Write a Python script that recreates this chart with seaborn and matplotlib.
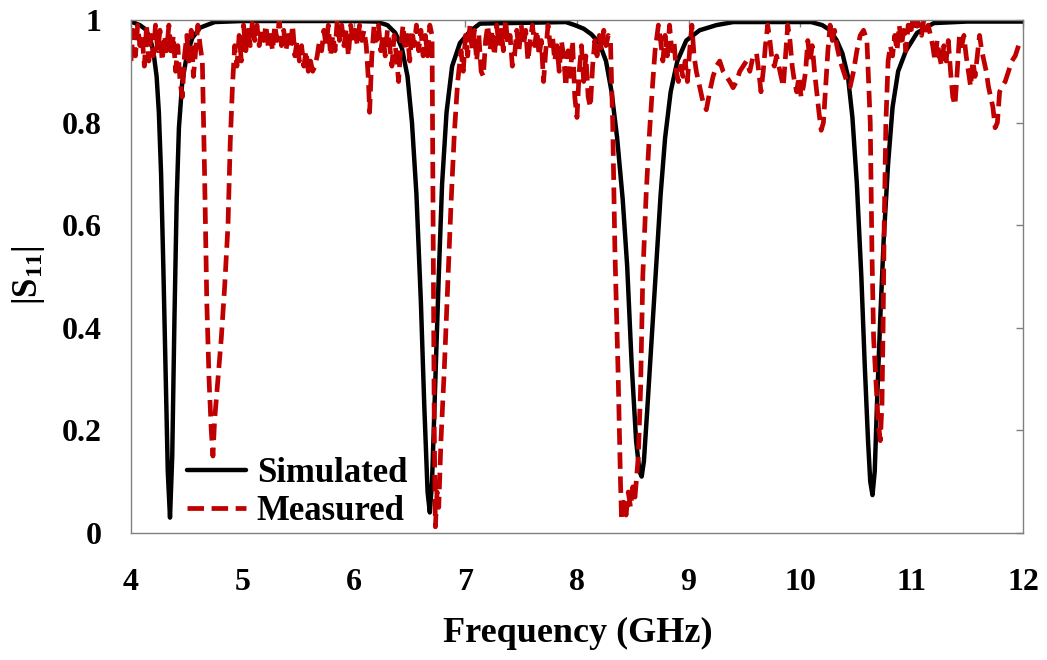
import matplotlib
matplotlib.use("Agg")
import matplotlib.pyplot as plt
import pandas as pd
import seaborn as sns

# Simulated |S11| (black solid)
sim_freq = [4.00, 4.08, 4.13, 4.17, 4.20, 4.23, 4.25, 4.27, 4.29, 4.31, 4.33, 4.35,
            4.37, 4.39, 4.41, 4.43, 4.46, 4.50, 4.55, 4.62, 4.75, 5.00, 6.00,
            6.20, 6.30, 6.37, 6.43, 6.48, 6.52, 6.56, 6.60, 6.63, 6.66, 6.68, 6.70,
            6.73, 6.76, 6.79, 6.83, 6.88, 6.95, 7.04, 7.13, 7.90,
            7.98, 8.06, 8.13, 8.20, 8.26, 8.31, 8.36, 8.41, 8.45, 8.49, 8.53, 8.56,
            8.58, 8.60, 8.63, 8.67, 8.71, 8.75, 8.79, 8.84, 8.90, 8.98, 9.10, 9.25,
            9.40, 10.10, 10.20, 10.27, 10.33, 10.38, 10.43, 10.47, 10.51, 10.55, 10.58,
            10.61, 10.63, 10.65, 10.67, 10.69, 10.72, 10.75, 10.79, 10.83, 10.88, 10.95,
            11.05, 11.20, 11.50, 12.00]
sim_s11 = [0.997, 0.99, 0.982, 0.965, 0.94, 0.89, 0.82, 0.70, 0.52, 0.32, 0.12, 0.03,
           0.15, 0.42, 0.65, 0.79, 0.88, 0.93, 0.965, 0.985, 0.996, 0.998, 0.998,
           0.997, 0.99, 0.975, 0.945, 0.89, 0.80, 0.66, 0.45, 0.25, 0.08, 0.04, 0.10,
           0.30, 0.50, 0.68, 0.82, 0.91, 0.955, 0.978, 0.993, 0.996,
           0.99, 0.983, 0.972, 0.955, 0.92, 0.86, 0.77, 0.65, 0.52, 0.33, 0.18, 0.12,
           0.11, 0.14, 0.24, 0.38, 0.52, 0.66, 0.77, 0.86, 0.92, 0.96, 0.98, 0.99,
           0.996, 0.996, 0.99, 0.98, 0.96, 0.935, 0.89, 0.81, 0.68, 0.50, 0.33,
           0.18, 0.10, 0.074, 0.12, 0.25, 0.42, 0.57, 0.72, 0.83, 0.90, 0.94,
           0.975, 0.994, 0.997, 0.997]

# Measured |S11| (red dashed)
meas_freq = [
    4.00, 4.02, 4.04, 4.06, 4.08, 4.10, 4.12, 4.14, 4.16, 4.18, 4.20, 4.22, 4.24, 4.26,
    4.28, 4.30, 4.32, 4.34, 4.36, 4.38, 4.40, 4.42, 4.44, 4.46, 4.48, 4.50, 4.52, 4.54,
    4.56, 4.58, 4.60, 4.62,
    4.64, 4.66, 4.68, 4.70, 4.72, 4.735, 4.75, 4.78, 4.81, 4.84, 4.87, 4.89, 4.91, 4.93,
    4.95, 4.97, 4.99, 5.01, 5.03, 5.05, 5.07, 5.09, 5.11, 5.13, 5.15, 5.17, 5.19, 5.21,
    5.23, 5.25, 5.27, 5.29, 5.31, 5.33, 5.35, 5.37, 5.39, 5.41, 5.43, 5.45, 5.47, 5.49,
    5.51, 5.53, 5.55, 5.57, 5.59, 5.61, 5.63, 5.65, 5.67, 5.69, 5.71, 5.73, 5.75, 5.77,
    5.79, 5.81, 5.83, 5.85, 5.87, 5.89, 5.91, 5.93, 5.95, 5.97, 5.99, 6.01, 6.03, 6.05,
    6.07, 6.09, 6.11, 6.13, 6.14, 6.16, 6.18, 6.20, 6.22, 6.24, 6.26, 6.28, 6.30, 6.32,
    6.34, 6.36, 6.38, 6.40, 6.42, 6.44, 6.46, 6.48, 6.50, 6.52, 6.54, 6.56, 6.58, 6.60,
    6.62, 6.64, 6.66, 6.68,
    6.70, 6.71, 6.72, 6.73, 6.745, 6.76, 6.78, 6.81, 6.84, 6.87, 6.90, 6.93, 6.96,
    6.98, 7.00, 7.02, 7.04, 7.06, 7.08, 7.10, 7.12, 7.14, 7.16, 7.18, 7.20, 7.22, 7.24,
    7.26, 7.28, 7.30, 7.32, 7.34, 7.36, 7.38, 7.40, 7.42, 7.44, 7.46, 7.48, 7.50, 7.52,
    7.54, 7.56, 7.58, 7.60, 7.62, 7.64, 7.66, 7.68, 7.70, 7.72, 7.74, 7.76, 7.78, 7.80,
    7.82, 7.84, 7.86, 7.88, 7.90, 7.92, 7.94, 7.96, 7.98, 8.00, 8.02, 8.04, 8.06, 8.08,
    8.10, 8.12, 8.14, 8.16, 8.18, 8.20, 8.22, 8.24, 8.26, 8.28,
    8.30, 8.32, 8.34, 8.37, 8.39, 8.40, 8.42, 8.44, 8.46, 8.48, 8.50, 8.52, 8.55, 8.57,
    8.59, 8.62, 8.65, 8.68, 8.70, 8.73,
    8.75, 8.77, 8.79, 8.81, 8.83, 8.85, 8.87, 8.89, 8.91, 8.93, 8.95, 8.97, 8.99, 9.01,
    9.03, 9.05, 9.07, 9.10, 9.13, 9.16, 9.19, 9.22, 9.25, 9.28, 9.31, 9.34, 9.37, 9.40,
    9.43, 9.46, 9.49, 9.52, 9.55, 9.58, 9.61, 9.63, 9.65, 9.67, 9.69, 9.71, 9.73, 9.75,
    9.77, 9.79, 9.81, 9.83, 9.85, 9.87, 9.89, 9.91, 9.93, 9.95, 9.97, 9.99, 10.01, 10.03,
    10.05, 10.07, 10.09, 10.11, 10.13, 10.15, 10.17, 10.19, 10.21, 10.23, 10.25, 10.27,
    10.29, 10.31, 10.33, 10.36, 10.39, 10.42, 10.45, 10.48, 10.51, 10.54, 10.57,
    10.60, 10.63, 10.645, 10.66, 10.68, 10.70, 10.72, 10.735, 10.745, 10.755, 10.77,
    10.79, 10.81,
    10.83, 10.85, 10.87, 10.89, 10.91, 10.93, 10.95, 10.97, 10.99, 11.01, 11.03, 11.05,
    11.07, 11.09, 11.11, 11.13, 11.15, 11.17, 11.19, 11.21, 11.23, 11.25, 11.27, 11.29,
    11.31, 11.33, 11.35, 11.37, 11.39, 11.41, 11.43, 11.45, 11.47, 11.49, 11.51, 11.53,
    11.55, 11.57, 11.59, 11.61, 11.63, 11.65, 11.67, 11.69, 11.71, 11.73, 11.75, 11.77,
    11.79, 11.81, 11.84, 11.87, 11.90, 11.93, 11.96, 11.99,
]
meas_s11 = [
    0.92, 0.98, 0.93, 0.99, 0.95, 0.97, 0.91, 0.99, 0.92, 0.97, 0.93, 0.99, 0.94, 0.98,
    0.92, 0.97, 0.94, 0.99, 0.93, 0.97, 0.90, 0.95, 0.88, 0.85, 0.93, 0.97, 0.92, 0.98,
    0.89, 0.94, 0.99, 0.95,
    0.92, 0.70, 0.45, 0.30, 0.20, 0.15, 0.22, 0.30, 0.38, 0.48, 0.60, 0.76, 0.87, 0.95,
    0.91, 0.97, 0.92, 0.99, 0.94, 0.98, 0.95, 1.00, 0.96, 0.99, 0.95, 0.98, 0.96, 0.99,
    0.95, 0.97, 0.94, 0.99, 0.96, 1.00, 0.95, 0.98, 0.94, 0.97, 0.95, 0.99, 0.93, 0.96,
    0.92, 0.95, 0.91, 0.94, 0.90, 0.92, 0.90, 0.91, 0.93, 0.96, 0.94, 0.98, 0.95, 0.99,
    0.93, 0.97, 0.94, 1.00, 0.96, 0.99, 0.95, 0.98, 0.93, 0.99, 0.96, 0.98, 0.95, 0.99,
    0.96, 0.98, 0.95, 0.88, 0.82, 0.93, 0.99, 0.96, 0.99, 0.94, 0.97, 0.93, 0.98, 0.95,
    0.91, 0.97, 0.93, 0.88, 0.95, 0.99, 0.94, 0.97, 0.92, 0.98, 0.95, 0.99, 0.94, 0.98,
    0.93, 0.97, 0.93, 0.99,
    0.97, 0.60, 0.20, 0.012, 0.08, 0.05, 0.18, 0.32, 0.48, 0.64, 0.78, 0.88, 0.94,
    0.90, 0.97, 0.93, 0.99, 0.94, 0.98, 0.92, 0.97, 0.90, 0.89, 0.96, 0.99, 0.94, 0.98,
    0.93, 0.99, 0.95, 0.98, 0.94, 1.00, 0.95, 0.97, 0.91, 0.93, 0.98, 0.94, 0.99, 0.95,
    0.98, 0.92, 0.96, 0.99, 0.95, 0.98, 0.93, 0.96, 0.88, 0.94, 0.99, 0.95, 0.97, 0.92,
    0.95, 0.90, 0.96, 0.93, 0.87, 0.94, 0.89, 0.96, 0.85, 0.81, 0.90, 0.95, 0.88, 0.93,
    0.85, 0.83, 0.91, 0.96, 0.93, 0.97, 0.94, 0.98, 0.95, 0.97,
    0.96, 0.80, 0.55, 0.30, 0.10, 0.025, 0.06, 0.035, 0.08, 0.05, 0.09, 0.07, 0.15, 0.28,
    0.50, 0.66, 0.78, 0.88, 0.94, 0.99,
    0.96, 0.92, 0.97, 0.93, 0.99, 0.94, 0.96, 0.90, 0.88, 0.91, 0.89, 0.92, 0.88, 0.94,
    0.99, 0.93, 0.90, 0.87, 0.84, 0.825, 0.86, 0.89, 0.91, 0.92, 0.90, 0.89, 0.88, 0.868,
    0.88, 0.90, 0.91, 0.92, 0.90, 0.93, 0.935, 0.90, 0.86, 0.90, 0.95, 0.99, 0.96, 0.92,
    0.91, 0.93, 0.91, 0.89, 0.87, 0.93, 0.99, 0.96, 0.91, 0.88, 0.86, 0.89, 0.85, 0.87,
    0.90, 0.96, 0.92, 0.95, 0.90, 0.86, 0.82, 0.785, 0.80, 0.87, 0.94, 0.99,
    0.96, 0.98, 0.95, 0.92, 0.90, 0.88, 0.87, 0.90, 0.94, 0.97, 0.98,
    0.96, 0.80, 0.55, 0.38, 0.30, 0.22, 0.18, 0.25, 0.40, 0.60, 0.80,
    0.92, 0.95,
    0.93, 0.97, 0.94, 0.99, 0.95, 0.98, 0.94, 0.99, 0.97, 1.00, 0.98, 1.00,
    0.99, 0.97, 1.00, 0.98, 0.99, 0.97, 0.95, 0.92, 0.96, 0.93, 0.91, 0.95,
    0.92, 0.96, 0.90, 0.85, 0.834, 0.90, 0.97, 0.95, 0.97, 0.93, 0.90, 0.87,
    0.92, 0.89, 0.93, 0.97, 0.94, 0.92, 0.90, 0.87, 0.85, 0.83, 0.79, 0.80,
    0.86, 0.87, 0.88, 0.90, 0.92, 0.93, 0.95, 0.96,
]

x_ticks = [4, 5, 6, 7, 8, 9, 10, 11, 12]
y_ticks = [0.0, 0.2, 0.4, 0.6, 0.8, 1.0]
y_tick_labels = ["0", "0.2", "0.4", "0.6", "0.8", "1"]

sns.set_theme(style="white")
plt.rcParams["font.family"] = ["Liberation Serif", "DejaVu Serif"]
plt.rcParams["font.weight"] = "bold"
plt.rcParams["text.color"] = "black"
plt.rcParams["axes.labelcolor"] = "black"
plt.rcParams["xtick.color"] = "black"
plt.rcParams["ytick.color"] = "black"
plt.rcParams["mathtext.fontset"] = "custom"
plt.rcParams["mathtext.rm"] = "Liberation Serif:bold"
plt.rcParams["mathtext.default"] = "rm"

sim = pd.DataFrame({"freq": sim_freq, "s11": sim_s11})
meas = pd.DataFrame({"freq": meas_freq, "s11": meas_s11})

fig = plt.figure(figsize=(10.47, 6.6), dpi=100)
ax = fig.add_axes([0.1251, 0.1924, 0.852, 0.7773])

sns.lineplot(data=sim, x="freq", y="s11", ax=ax, color="black", lw=3.2,
             label="Simulated", sort=False, estimator=None)
sns.lineplot(data=meas, x="freq", y="s11", ax=ax, color="#C00000", lw=3.4,
             linestyle=(0, (3.5, 1.6)), label="Measured", sort=False, estimator=None)

ax.set_xlim(4, 12)
ax.set_ylim(0, 1)
ax.set_xticks(x_ticks)
ax.set_xticklabels([str(t) for t in x_ticks])
ax.set_yticks(y_ticks)
ax.set_yticklabels(y_tick_labels)

for sp in ax.spines.values():
    sp.set_color("#808080")
    sp.set_linewidth(1.0)
ax.tick_params(direction="in", length=5, width=1, color="#808080",
               labelcolor="black", top=True, right=True, labelsize=23)
ax.tick_params(axis="x", pad=25)
ax.tick_params(axis="y", pad=21)
for lbl in ax.get_xticklabels() + ax.get_yticklabels():
    lbl.set_fontweight("bold")

ax.set_xlabel("Frequency (GHz)", fontsize=26, fontweight="bold", color="black")
ax.xaxis.set_label_coords(0.501, -0.163)
ax.set_ylabel("|S$_{11}$|", fontsize=25, fontweight="bold", color="black")
ax.yaxis.set_label_coords(-0.094, 0.503)

leg = ax.legend(loc="lower left", bbox_to_anchor=(0.036, -0.038), frameon=False,
                prop={"size": 25, "weight": "bold"}, handlelength=1.7,
                handletextpad=0.3, labelspacing=0.15, borderpad=0.2)
for t in leg.get_texts():
    t.set_color("black")

fig.savefig("out.png", dpi=100)
